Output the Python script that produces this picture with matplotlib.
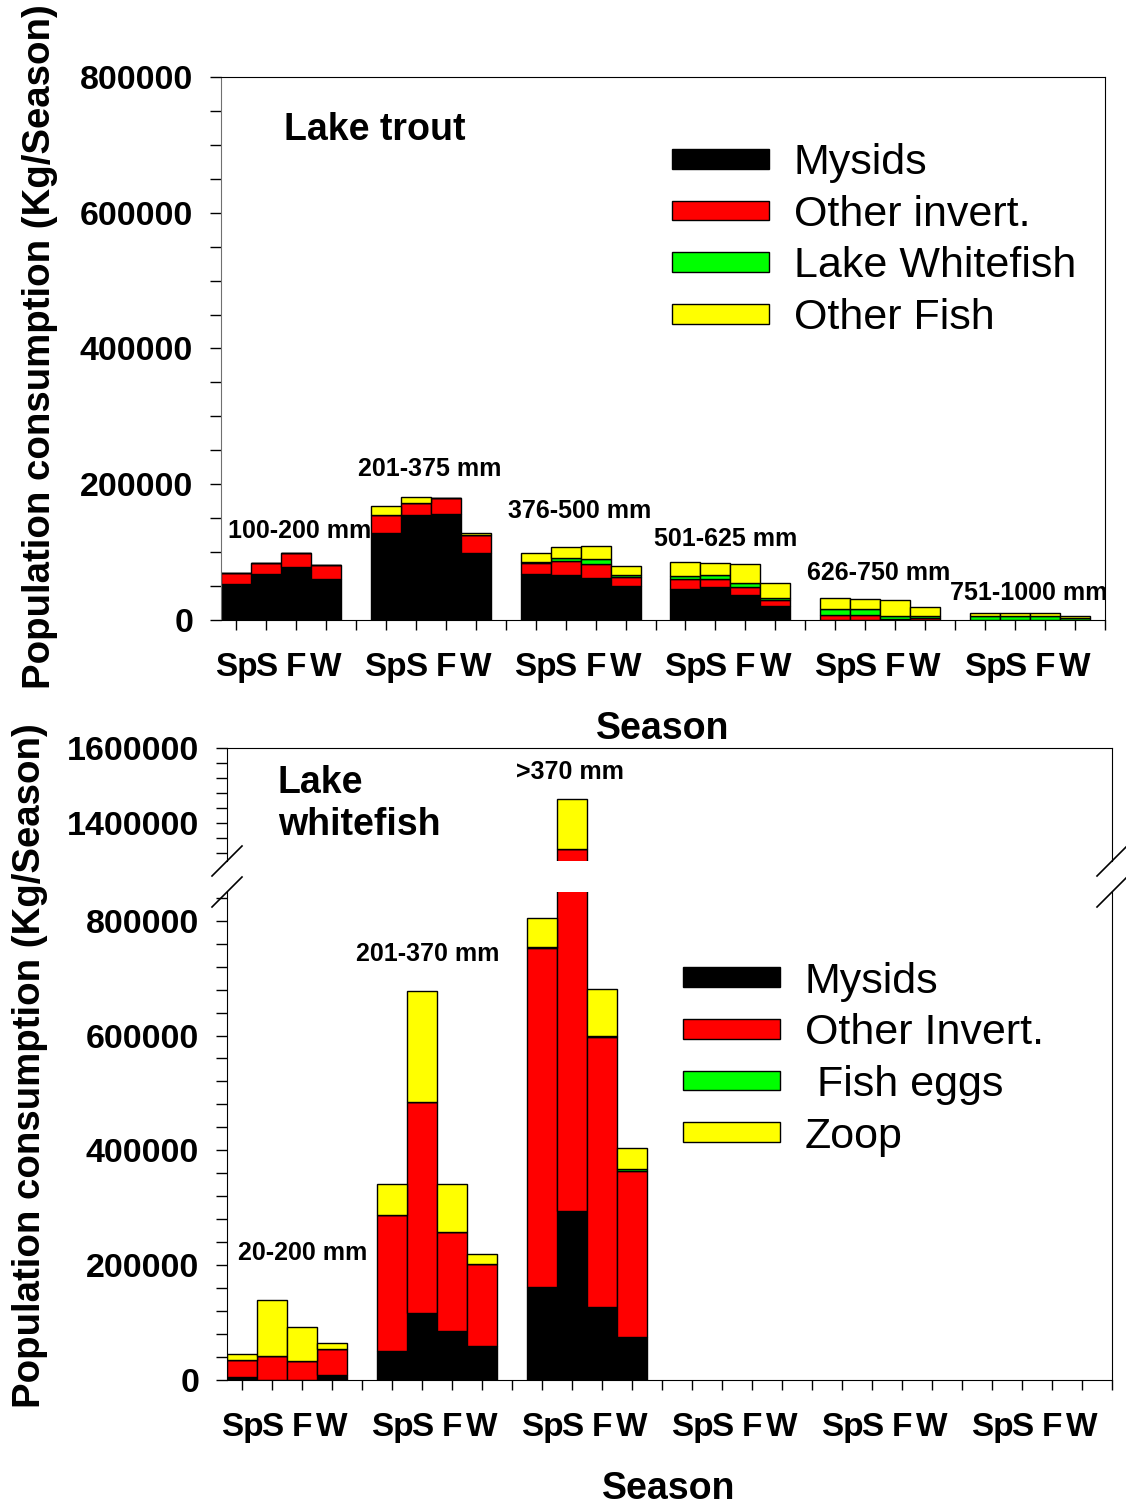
import numpy as np
import matplotlib
matplotlib.use('Agg')
import matplotlib.pyplot as plt
from matplotlib.lines import Line2D
from matplotlib.ticker import MultipleLocator

plt.rcParams['font.family'] = ['Liberation Sans', 'DejaVu Sans']

seasons = ['Sp', 'S', 'F', 'W']

# ---- Lake trout (6 size classes x 4 seasons) ----
trout_sizes = ['100-200 mm', '201-375 mm', '376-500 mm', '501-625 mm', '626-750 mm', '751-1000 mm']
trout_mysids = [53000, 67800, 77600, 60400,
                128000, 154700, 156100, 98200,
                67800, 66300, 61900, 50500,
                46400, 49300, 36100, 19900,
                0, 0, 0, 0,
                0, 0, 0, 0]
trout_invert = [15800, 15700, 20600, 20600,
                27000, 17600, 23200, 26500,
                15700, 20600, 21100, 12800,
                13300, 10400, 12800, 10300,
                8100, 7700, 2200, 2500,
                0, 0, 0, 0]
trout_whitefish = [0, 0, 0, 0,
                   0, 0, 0, 0,
                   1400, 4400, 6900, 2500,
                   4400, 6900, 6300, 1500,
                   7400, 7800, 4400, 2700,
                   6200, 6200, 5200, 3200]
trout_otherfish = [0, 0, 0, 0,
                   13400, 8400, 0, 3900,
                   13300, 15700, 19100, 13300,
                   21100, 17600, 28000, 22100,
                   16200, 15200, 23600, 13700,
                   4400, 4000, 5000, 3000]

# ---- Lake whitefish (3 size classes x 4 seasons) ----
wf_sizes = ['20-200 mm', '201-370 mm', '>370 mm']
wf_mysids = [4700, 0, 0, 8700,
             50400, 116500, 85200, 59100,
             162300, 293900, 127000, 74800]
wf_invert = [30100, 42300, 33000, 45200,
             236600, 367000, 172200, 142100,
             589600, 1038500, 470700, 288700]
wf_eggs = [0, 0, 0, 0,
           0, 0, 0, 0,
           2300, 0, 2300, 3500]
wf_zoop = [10400, 96800, 58600, 9900,
           55000, 194200, 83500, 17900,
           49800, 132600, 81200, 37700]

colors = ['#000000', '#ff0000', '#00ff00', '#ffff00']
trout_labels = ['Mysids', 'Other invert.', 'Lake Whitefish', 'Other Fish']
wf_labels = ['Mysids', 'Other Invert.', ' Fish eggs', 'Zoop']

W, H = 1126, 1504
fig = plt.figure(figsize=(W / 100, H / 100), dpi=100)


def box(l, t, r, b):
    return [l / W, 1 - b / H, (r - l) / W, (b - t) / H]


def positions(n_groups):
    return np.array([g * 5 + i for g in range(n_groups) for i in range(4)])


def stack(ax, x, layers, labels):
    bottom = np.zeros(len(x))
    for vals, c, lab in zip(layers, colors, labels):
        vals = np.asarray(vals, float)
        ax.bar(x, vals, width=1.0, bottom=bottom, color=c, edgecolor='black',
               linewidth=1.0, label=lab)
        bottom += vals


def style_x(ax):
    ax.set_xlim(-0.5, 29)
    ax.set_xticks(range(30))
    ax.set_xticklabels((seasons + ['']) * 6, fontsize=24, fontweight='bold')
    ax.tick_params(axis='x', direction='out', length=7, width=1, pad=16)


def style_y(ax, major, minor):
    ax.yaxis.set_major_locator(MultipleLocator(major))
    ax.yaxis.set_minor_locator(MultipleLocator(minor))
    ax.tick_params(axis='y', which='both', direction='out', length=8, width=1, pad=12)
    ax.yaxis.set_major_formatter(plt.FuncFormatter(lambda v, p: '%d' % v))
    for t in ax.get_yticklabels():
        t.set_fontsize(24.5)
        t.set_fontweight('bold')


def legend(ax, anchor):
    ax.legend(loc='upper left', bbox_to_anchor=anchor, frameon=False, fontsize=31,
              handlelength=2.25, handleheight=0.33, handletextpad=0.58, labelspacing=0.27,
              borderpad=0, borderaxespad=0)


# ---------------- top: lake trout ----------------
ax1 = fig.add_axes(box(221, 77, 1105, 620))
x1 = positions(6)
stack(ax1, x1, [trout_mysids, trout_invert, trout_whitefish, trout_otherfish], trout_labels)
ax1.set_ylim(0, 800000)
style_x(ax1)
style_y(ax1, 200000, 50000)
ax1.spines['left'].set_color('#707070')
ax1.text(1.6, 722000, 'Lake trout', fontsize=27, fontweight='bold', ha='left', va='center')
trout_lab_x = [2.13, 6.47, 11.47, 16.33, 21.43, 26.47]
trout_lab_y = [131000, 222500, 160500, 119000, 69000, 39500]
for s, lx, ly in zip(trout_sizes, trout_lab_x, trout_lab_y):
    ax1.text(lx, ly, s, fontsize=18, fontweight='bold', ha='center', va='center')
legend(ax1, (0.51, 0.878))
fig.text(663 / W, 1 - 729 / H, 'Season', fontsize=27, fontweight='bold', ha='center', va='center')
fig.text(40 / W, 1 - 347 / H, 'Population consumption (Kg/Season)', fontsize=27.6,
         fontweight='bold', rotation=90, ha='center', va='center')

# ---------------- bottom: lake whitefish (broken axis) ----------------
ax2 = fig.add_axes(box(227, 748, 1112, 861))
ax3 = fig.add_axes(box(227, 892, 1112, 1380))
x2 = positions(3)
for ax in (ax2, ax3):
    stack(ax, x2, [wf_mysids, wf_invert, wf_eggs, wf_zoop], wf_labels)
    style_x(ax)
ax2.set_ylim(1300000, 1600000)
ax3.set_ylim(0, 850000)
style_y(ax2, 200000, 40000)
style_y(ax3, 200000, 40000)
ax2.spines['bottom'].set_visible(False)
ax2.tick_params(axis='x', which='both', bottom=False, labelbottom=False)
ax3.spines['top'].set_visible(False)

ax2.text(1.2, 1452000, 'Lake\nwhitefish', fontsize=27, fontweight='bold', ha='left',
         va='center', linespacing=1.2)
ax2.text(10.93, 1535000, wf_sizes[2], fontsize=18, fontweight='bold', ha='center', va='center')
ax3.text(2.03, 222000, wf_sizes[0], fontsize=18, fontweight='bold', ha='center', va='center')
ax3.text(6.2, 742000, wf_sizes[1], fontsize=18, fontweight='bold', ha='center', va='center')
legend(ax3, (0.515, 0.857))

# break marks
dx, dy = 15 / W, 15 / H
for xe in (227 / W, 1112 / W):
    for ye in (1 - 861 / H, 1 - 892 / H):
        fig.add_artist(Line2D([xe - dx, xe + dx], [ye - dy, ye + dy], color='black', lw=1.2))

fig.text(669 / W, 1 - 1489 / H, 'Season', fontsize=27, fontweight='bold', ha='center', va='center')
fig.text(30 / W, 1 - 1066 / H, 'Population consumption (Kg/Season)', fontsize=27.6,
         fontweight='bold', rotation=90, ha='center', va='center')

fig.savefig('out.png', dpi=100)
